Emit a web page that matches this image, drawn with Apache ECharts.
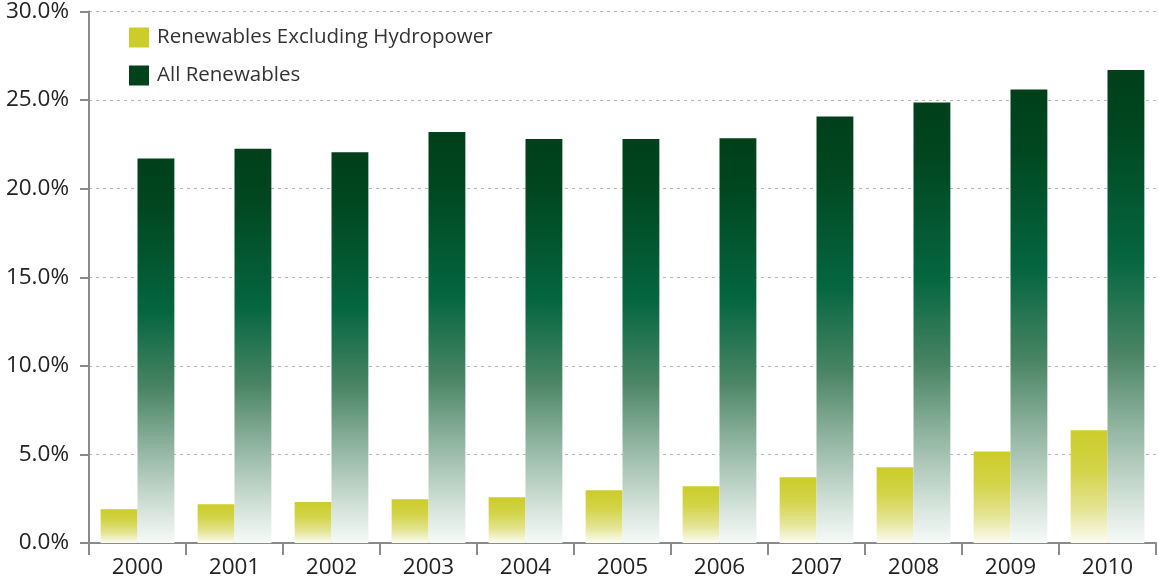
<!DOCTYPE html>
<html>
<head>
<meta charset="utf-8">
<script src="https://cdn.jsdelivr.net/npm/echarts@6/dist/echarts.min.js"></script>
<style>
html,body{margin:0;padding:0;background:#fff;}
#chart{width:1158px;height:581px;}
</style>
</head>
<body>
<div id="chart"></div>
<script>
var years = ['2000','2001','2002','2003','2004','2005','2006','2007','2008','2009','2010'];
var exclHydro = [1.91, 2.19, 2.31, 2.47, 2.58, 2.98, 3.2, 3.71, 4.27, 5.17, 6.36];
var allRenew = [21.7, 22.25, 22.05, 23.2, 22.8, 22.8, 22.85, 24.07, 24.86, 25.6, 26.7];
var seriesNames = ['Renewables Excluding Hydropower', 'All Renewables'];

var FONT = 'Open Sans';
var chart = echarts.init(document.getElementById('chart'), null, {renderer:'canvas'});

var yellowGrad = new echarts.graphic.LinearGradient(0,0,0,1,[
  {offset:0, color:'#cccc2a'},
  {offset:0.35, color:'#d3d448'},
  {offset:0.7, color:'#e4e494'},
  {offset:1, color:'#fcfcf2'}
]);
var greenGrad = new echarts.graphic.LinearGradient(0,0,0,1,[
  {offset:0, color:'#00401a'},
  {offset:0.12, color:'#00461f'},
  {offset:0.4, color:'#056640'},
  {offset:0.6, color:'#4a8565'},
  {offset:0.75, color:'#8fb39f'},
  {offset:0.9, color:'#cfdfd6'},
  {offset:1, color:'#f7faf8'}
]);

chart.setOption({
  animation:false,
  backgroundColor:'#ffffff',
  grid:{left:89, right:2, top:9.5, bottom:38, containLabel:false},
  legend:{
    orient:'vertical', left:124, top:22,
    itemWidth:20, itemHeight:20, itemGap:17,
    icon:'rect',
    textStyle:{fontFamily:FONT, fontSize:20.5, color:'#333', padding:[0,0,0,3]},
    data:[
      {name:seriesNames[0], itemStyle:{color:'#cccc2a'}},
      {name:seriesNames[1], itemStyle:{color:'#00421a'}}
    ]
  },
  xAxis:{
    type:'category', data:years, boundaryGap:true,
    axisLine:{lineStyle:{color:'#8a8a8a', width:2}},
    axisTick:{show:true, length:12, lineStyle:{color:'#8a8a8a', width:2}},
    axisLabel:{fontFamily:FONT, fontSize:22.5, color:'#222', margin:13}
  },
  yAxis:{
    type:'value', min:0, max:30, interval:5,
    axisLine:{show:true, lineStyle:{color:'#8a8a8a', width:2}},
    axisTick:{show:true, length:9, lineStyle:{color:'#8a8a8a', width:2}},
    axisLabel:{fontFamily:FONT, fontSize:22.5, color:'#222', margin:20,
      formatter:function(v){return v.toFixed(1)+'%';}},
    splitLine:{show:true, lineStyle:{color:'#b5b5b5', type:[3,4], width:1}}
  },
  series:[
    {name:seriesNames[0], type:'bar', data:exclHydro, barGap:'0%', barCategoryGap:'24%',
      itemStyle:{color:yellowGrad}},
    {name:seriesNames[1], type:'bar', data:allRenew, barGap:'0%', barCategoryGap:'24%',
      itemStyle:{color:greenGrad}}
  ]
});
</script>
</body>
</html>
